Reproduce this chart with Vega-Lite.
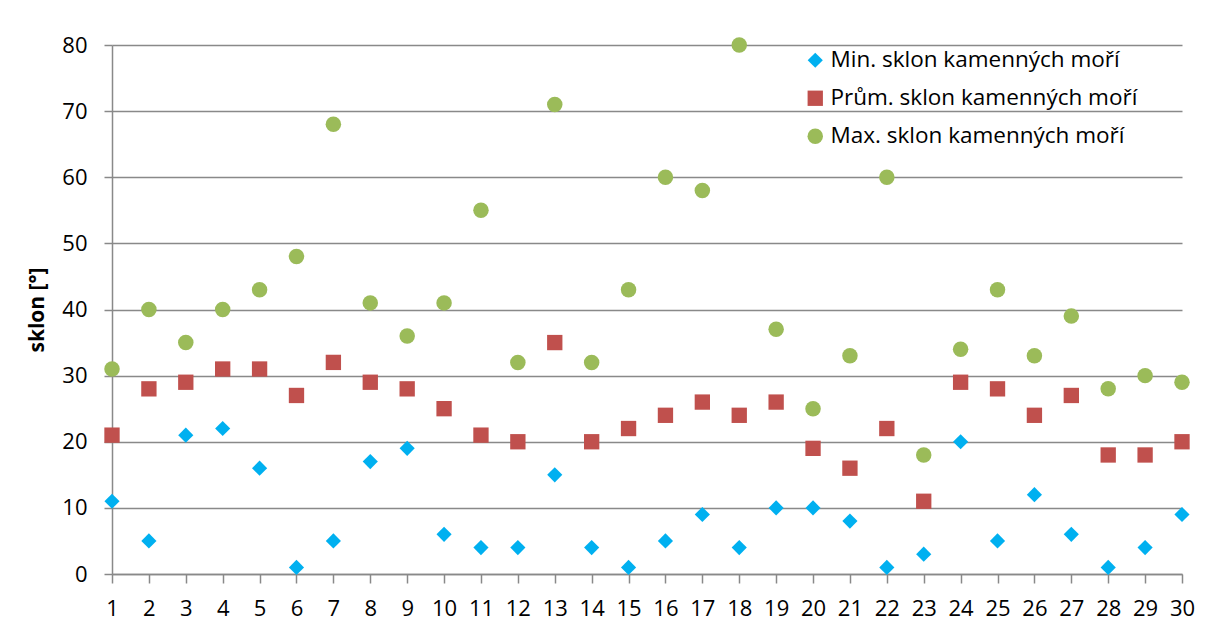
{
  "$schema": "https://vega.github.io/schema/vega-lite/v6.json",
  "width": 1070,
  "height": 529,
  "autosize": "none",
  "padding": {"left": 112, "top": 45, "right": 24, "bottom": 67},
  "background": "white",
  "data": {
    "values": [
      {"n": 1, "min": 11, "avg": 21, "max": 31},
      {"n": 2, "min": 5, "avg": 28, "max": 40},
      {"n": 3, "min": 21, "avg": 29, "max": 35},
      {"n": 4, "min": 22, "avg": 31, "max": 40},
      {"n": 5, "min": 16, "avg": 31, "max": 43},
      {"n": 6, "min": 1, "avg": 27, "max": 48},
      {"n": 7, "min": 5, "avg": 32, "max": 68},
      {"n": 8, "min": 17, "avg": 29, "max": 41},
      {"n": 9, "min": 19, "avg": 28, "max": 36},
      {"n": 10, "min": 6, "avg": 25, "max": 41},
      {"n": 11, "min": 4, "avg": 21, "max": 55},
      {"n": 12, "min": 4, "avg": 20, "max": 32},
      {"n": 13, "min": 15, "avg": 35, "max": 71},
      {"n": 14, "min": 4, "avg": 20, "max": 32},
      {"n": 15, "min": 1, "avg": 22, "max": 43},
      {"n": 16, "min": 5, "avg": 24, "max": 60},
      {"n": 17, "min": 9, "avg": 26, "max": 58},
      {"n": 18, "min": 4, "avg": 24, "max": 80},
      {"n": 19, "min": 10, "avg": 26, "max": 37},
      {"n": 20, "min": 10, "avg": 19, "max": 25},
      {"n": 21, "min": 8, "avg": 16, "max": 33},
      {"n": 22, "min": 1, "avg": 22, "max": 60},
      {"n": 23, "min": 3, "avg": 11, "max": 18},
      {"n": 24, "min": 20, "avg": 29, "max": 34},
      {"n": 25, "min": 5, "avg": 28, "max": 43},
      {"n": 26, "min": 12, "avg": 24, "max": 33},
      {"n": 27, "min": 6, "avg": 27, "max": 39},
      {"n": 28, "min": 1, "avg": 18, "max": 28},
      {"n": 29, "min": 4, "avg": 18, "max": 30},
      {"n": 30, "min": 9, "avg": 20, "max": 29}
    ]
  },
  "transform": [
    {"fold": ["min", "avg", "max"], "as": ["serie", "sklon"]}
  ],
  "mark": {"type": "point", "filled": true, "opacity": 1, "clip": false},
  "encoding": {
    "x": {
      "field": "n", "type": "quantitative",
      "scale": {"domain": [1, 30], "nice": false, "zero": false},
      "axis": {
        "title": null, "values": [1,2,3,4,5,6,7,8,9,10,11,12,13,14,15,16,17,18,19,20,21,22,23,24,25,26,27,28,29,30],
        "grid": false, "domainColor": "#898989", "domainWidth": 1.5,
        "tickColor": "#898989", "tickWidth": 1.5, "tickSize": 9,
        "labelFontSize": 22, "labelFont": "Open Sans", "labelColor": "#000000",
        "labelPadding": 15, "labelFlush": false, "labelOverlap": false
      }
    },
    "y": {
      "field": "sklon", "type": "quantitative",
      "scale": {"domain": [0, 80], "nice": false},
      "axis": {
        "title": "sklon [°]", "titleFont": "Open Sans", "titleFontSize": 21, "titleFontWeight": "bold", "titleColor": "#000000",
        "titlePadding": 14,
        "values": [0,10,20,30,40,50,60,70,80],
        "grid": true, "gridColor": "#898989", "gridWidth": 1.5,
        "domainColor": "#898989", "domainWidth": 1.5,
        "tickColor": "#898989", "tickWidth": 1.5, "tickSize": 8,
        "labelFontSize": 22, "labelFont": "Open Sans", "labelColor": "#000000",
        "labelPadding": 17
      }
    },
    "color": {
      "field": "serie", "type": "nominal",
      "scale": {"domain": ["min", "avg", "max"], "range": ["#00B0F0", "#C0504D", "#9BBB59"]},
      "legend": {
        "title": null, "orient": "none", "legendX": 692, "legendY": 4,
        "labelFont": "Open Sans", "labelFontSize": 22.5, "labelColor": "#000000",
        "labelExpr": "datum.value == 'min' ? 'Min. sklon kamenných moří' : datum.value == 'avg' ? 'Prům. sklon kamenných moří' : 'Max. sklon kamenných moří'",
        "symbolSize": 210, "rowPadding": 15, "labelOffset": 4, "symbolStrokeWidth": 0, "labelLimit": 400
      }
    },
    "shape": {
      "field": "serie", "type": "nominal",
      "scale": {"domain": ["min", "avg", "max"], "range": ["diamond", "square", "circle"]},
      "legend": null
    },
    "size": {
      "field": "serie", "type": "nominal",
      "scale": {"domain": ["min", "avg", "max"], "range": [230, 240, 190]},
      "legend": null
    }
  },
  "config": {
    "view": {"stroke": null},
    "font": "Open Sans"
  }
}
